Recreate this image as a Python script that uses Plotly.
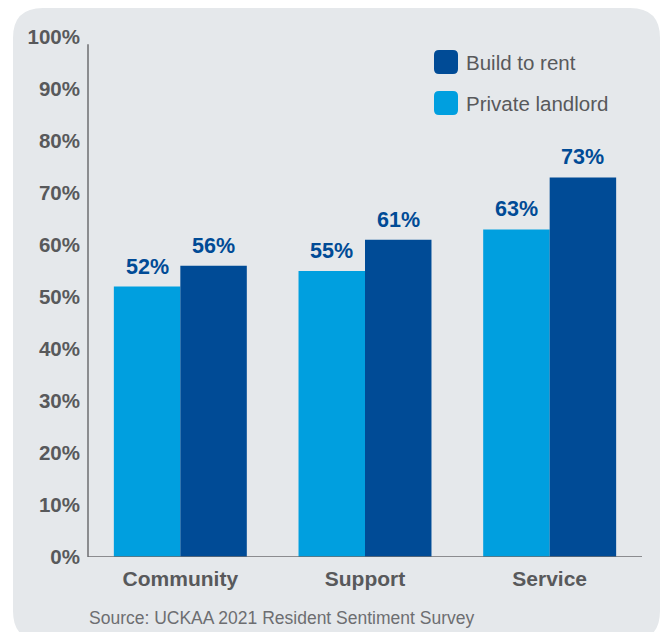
import plotly.graph_objects as go

categories = ["Community", "Support", "Service"]
private_landlord = [52, 55, 63]
build_to_rent = [56, 61, 73]
tick_vals = [0, 10, 20, 30, 40, 50, 60, 70, 80, 90, 100]
tick_text = [f"{v}%" for v in tick_vals]
source_text = "Source: UCKAA 2021 Resident Sentiment Survey"

W, H = 661, 632
ML, MR, MT, MB = 88, 19, 37, 75
PW, PH = W - ML - MR, H - MT - MB
BARGAP = 0.28

def px(x):
    return (x - ML) / PW

def py(y):
    return (H - MB - y) / PH

LIGHT = "#009fdf"
DARK = "#004b96"
GREY = "#58595b"
BG = "#e5e8eb"

def rounded_rect(x0, y0, x1, y1, r):
    X0, X1 = px(x0), px(x1)
    Y0, Y1 = py(y0), py(y1)
    rx, ry = r / PW, r / PH
    return (f"M {X0+rx},{Y0} L {X1-rx},{Y0} Q {X1},{Y0} {X1},{Y0-ry} "
            f"L {X1},{Y1+ry} Q {X1},{Y1} {X1-rx},{Y1} L {X0+rx},{Y1} "
            f"Q {X0},{Y1} {X0},{Y1+ry} L {X0},{Y0-ry} Q {X0},{Y0} {X0+rx},{Y0} Z")

fig = go.Figure()
fig.add_trace(go.Bar(x=categories, y=private_landlord, name="Private landlord",
                     marker=dict(color=LIGHT, line=dict(width=0))))
fig.add_trace(go.Bar(x=categories, y=build_to_rent, name="Build to rent",
                     marker=dict(color=DARK, line=dict(width=0))))

bar_w = PW / len(categories) * (1 - BARGAP) / 2
annotations = []
for series, sign in ((private_landlord, -1), (build_to_rent, 1)):
    for c, v in zip(categories, series):
        annotations.append(dict(x=c, y=v, xref="x", yref="y", text=f"{v}%",
                                showarrow=False, xshift=sign * bar_w / 2,
                                yanchor="bottom", yshift=6,
                                font=dict(family="Liberation Sans", size=21.5,
                                          color=DARK, weight="bold")))

shapes = [
    dict(type="path", xref="paper", yref="paper", layer="below",
         path=rounded_rect(13, 8, 660, 641, 30), fillcolor=BG, line=dict(width=0)),
    dict(type="line", xref="paper", yref="y", x0=0, x1=0, y0=0, y1=98.6,
         line=dict(color="#6d6e71", width=1.5)),
    dict(type="line", xref="paper", yref="y", x0=0, x1=1, y0=0, y1=0,
         line=dict(color="#6d6e71", width=1.5)),
]
legend_items = [("Build to rent", DARK, 50), ("Private landlord", LIGHT, 91)]
for label, col, top in legend_items:
    shapes.append(dict(type="path", xref="paper", yref="paper",
                       path=rounded_rect(434, top, 458, top + 24, 5),
                       fillcolor=col, line=dict(width=0)))
    annotations.append(dict(x=px(464), y=py(top + 12), xref="paper", yref="paper",
                            text=label, showarrow=False, xanchor="left", yanchor="middle",
                            font=dict(family="Liberation Sans", size=20.5, color=GREY)))
annotations.append(dict(x=px(87), y=py(618), xref="paper", yref="paper",
                        text=source_text, showarrow=False, xanchor="left", yanchor="middle",
                        font=dict(family="Liberation Sans", size=17.5, color="#6d6e71")))

fig.update_layout(
    width=W, height=H,
    margin=dict(l=ML, r=MR, t=MT, b=MB, pad=0),
    paper_bgcolor="white", plot_bgcolor="rgba(0,0,0,0)",
    barmode="group", bargap=BARGAP, bargroupgap=0,
    showlegend=False,
    shapes=shapes, annotations=annotations,
    xaxis=dict(showgrid=False, showline=False, zeroline=False, ticks="",
               tickfont=dict(family="Liberation Sans", size=21, color=GREY, weight="bold"),
               ticklabelstandoff=7),
    yaxis=dict(range=[0, 100], tickvals=tick_vals, ticktext=tick_text,
               showgrid=False, showline=False, zeroline=False, ticks="",
               tickfont=dict(family="Liberation Sans", size=20.5, color=GREY, weight="bold"),
               ticklabelstandoff=7),
)

fig.write_html("out.html")
